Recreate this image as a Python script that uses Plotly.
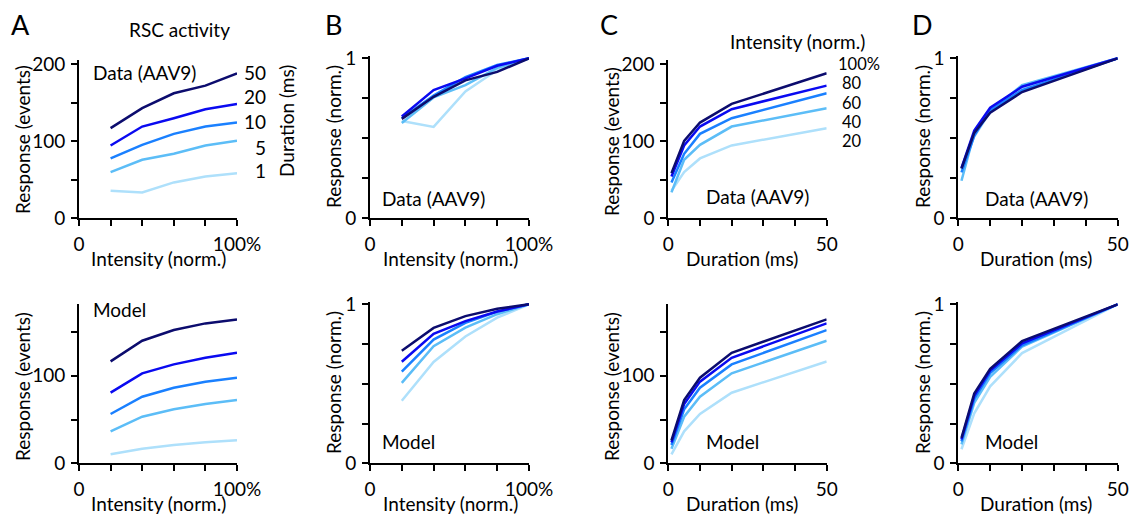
import plotly.graph_objects as go

# ---------------- data ----------------
durations = [1, 5, 10, 20, 50]            # ms
intensities = [20, 40, 60, 80, 100]       # % (norm.)

# Data (AAV9): response (events) per duration, across intensities 20..100%
data_dur1 = [35.5, 33.3, 46.3, 54.1, 58.4]
data_dur5 = [59.7, 75.8, 83.5, 94.4, 100.4]
data_dur10 = [77.5, 95.2, 109.5, 119.0, 124.2]
data_dur20 = [94.4, 119.0, 129.9, 141.6, 148.5]
data_dur50 = [116.9, 142.9, 162.3, 172.3, 188.3]

# Model: response (events) per duration, across intensities 20..100%
model_dur1 = [10.3, 16.7, 20.9, 24.0, 26.2]
model_dur5 = [36.5, 53.2, 61.6, 67.7, 72.2]
model_dur10 = [56.3, 76.0, 86.3, 93.2, 97.7]
model_dur20 = [80.6, 102.7, 112.9, 120.5, 126.2]
model_dur50 = [116.3, 139.9, 152.1, 159.7, 164.3]

duration_labels = ["1", "5", "10", "20", "50"]
intensity_labels = ["20", "40", "60", "80", "100%"]

colors = ["#aee0fb", "#5cbdf7", "#1a80ff", "#0a0af0", "#0c0c6e"]

data_rows = [data_dur1, data_dur5, data_dur10, data_dur20, data_dur50]
model_rows = [model_dur1, model_dur5, model_dur10, model_dur20, model_dur50]

W, H = 1133, 517
FONT = "Lato, 'Open Sans', sans-serif"
FS = 19


def fx(p):
    return p / W


def fy(p):
    return 1 - p / H


fig = go.Figure()

# panel geometry in pixels: (x0, x1, ytop, ybottom)
panels = {
    1: (79, 237, 60.0, 218, [0, 100], [0, 205.6], "int", "ev_top"),
    2: (370, 529, 56.4, 218, [0, 100], [0, 1.012], "int", "norm"),
    3: (668.3, 826.7, 60.0, 218, [0, 50], [0, 205.6], "dur", "ev_top"),
    4: (958.3, 1117.7, 56.4, 218, [0, 50], [0, 1.012], "dur", "norm"),
    5: (79, 237, 304.3, 463.3, [0, 100], [0, 181.5], "int", "ev_bot"),
    6: (370, 529, 302.4, 463.3, [0, 100], [0, 1.012], "int", "norm"),
    7: (668.3, 826.7, 304.3, 463.3, [0, 50], [0, 181.5], "dur", "ev_bot"),
    8: (958.3, 1117.7, 302.4, 463.3, [0, 50], [0, 1.012], "dur", "norm"),
}

xticks = {
    "int": ([0, 20, 40, 60, 80, 100], ["0", "", "", "", "", "100%"]),
    "dur": ([0, 10, 20, 30, 40, 50], ["0", "", "", "", "", "50"]),
}
yticks = {
    "ev_top": ([0, 50, 100, 150, 200], ["0", "", "100", "", "200"]),
    "ev_bot": ([0, 50, 100, 150], ["0", "", "100", ""]),
    "norm": ([0, 0.25, 0.5, 0.75, 1], ["0", "", "", "", "1"]),
}

axis_common = dict(
    showline=True, linecolor="black", linewidth=2, ticks="outside",
    ticklen=6, tickwidth=2, tickcolor="black", showgrid=False,
    zeroline=False, fixedrange=True, automargin=False,
    tickfont=dict(family=FONT, size=FS, color="black"),
)

layout = {}
for i, (x0, x1, yt, yb, xr, yr, xk, yk) in panels.items():
    sx = "" if i == 1 else str(i)
    layout["xaxis" + sx] = dict(
        domain=[fx(x0), fx(x1)], range=xr, anchor="y" + sx,
        tickvals=xticks[xk][0], ticktext=xticks[xk][1], ticklabelstandoff=2,
        **axis_common)
    layout["yaxis" + sx] = dict(
        domain=[fy(yb), fy(yt)], range=yr, anchor="x" + sx,
        tickvals=yticks[yk][0], ticktext=yticks[yk][1], ticklabelstandoff=2,
        **axis_common)


def add(i, x, y, color):
    sx = "" if i == 1 else str(i)
    fig.add_trace(go.Scatter(
        x=x, y=y, mode="lines", line=dict(color=color, width=2.5),
        xaxis="x" + sx, yaxis="y" + sx, showlegend=False, hoverinfo="skip"))


for rows, top in ((data_rows, True), (model_rows, False)):
    a, b, c, d = (1, 2, 3, 4) if top else (5, 6, 7, 8)
    # A: response vs intensity, one line per duration
    for k, r in enumerate(rows):
        add(a, intensities, r, colors[k])
    # B: normalized to 100% intensity
    for k, r in enumerate(rows):
        add(b, intensities, [v / r[-1] for v in r], colors[k])
    # C: response vs duration, one line per intensity
    for j in range(len(intensities)):
        col = [rows[k][j] for k in range(len(durations))]
        add(c, durations, col, colors[j])
    # D: normalized to 50 ms
    for j in range(len(intensities)):
        col = [rows[k][j] for k in range(len(durations))]
        add(d, durations, [v / col[-1] for v in col], colors[j])

ann = []


def text(x, y, s, size=FS, xanchor="center", angle=0):
    ann.append(dict(x=fx(x), y=fy(y), xref="paper", yref="paper", text=s,
                    showarrow=False, xanchor=xanchor, yanchor="middle",
                    textangle=angle,
                    font=dict(family=FONT, size=size, color="black")))


# panel letters
for letter, x in (("A", 21), ("B", 333), ("C", 609), ("D", 922)):
    text(x, 25, letter, size=27)

text(179, 30, "RSC activity")
text(728, 41, "Intensity (norm.)", xanchor="left")

# duration labels (panel A)
for lab, y in zip(duration_labels[::-1], [73, 97, 122, 147, 171]):
    text(268, y, lab, xanchor="right")
text(286, 121, "Duration (ms)", angle=-90)

# intensity labels (panel C)
for lab, y in zip(intensity_labels[::-1], [63.5, 83, 102.5, 122, 141.5]):
    text(836 if lab.endswith("%") else 840, y, lab, size=16.5, xanchor="left")

# in-panel labels
text(91, 72, "Data (AAV9)", xanchor="left")
text(380, 198, "Data (AAV9)", xanchor="left")
text(704, 197, "Data (AAV9)", xanchor="left")
text(983, 198, "Data (AAV9)", xanchor="left")
text(91, 309, "Model", xanchor="left")
text(380, 441, "Model", xanchor="left")
text(704, 441, "Model", xanchor="left")
text(983, 441, "Model", xanchor="left")

# y-axis titles
text(22, 140, "Response (events)", angle=-90)
text(22, 387, "Response (events)", angle=-90)
text(333, 137, "Response (norm.)", angle=-90)
text(333, 383, "Response (norm.)", angle=-90)
text(611, 142, "Response (events)", angle=-90)
text(611, 387, "Response (events)", angle=-90)
text(922, 137, "Response (norm.)", angle=-90)
text(922, 383, "Response (norm.)", angle=-90)

# x-axis titles
for y in (258, 503):
    text(158, y, "Intensity (norm.)")
    text(450, y, "Intensity (norm.)")
    text(742, y, "Duration (ms)")
    text(1036, y, "Duration (ms)")

fig.update_layout(
    template="none",
    width=W, height=H, margin=dict(l=0, r=0, t=0, b=0, autoexpand=False),
    paper_bgcolor="white", plot_bgcolor="white", annotations=ann,
    **layout)

fig.write_html(
    "out.html",
    config={"displayModeBar": False, "displaylogo": False,
            "staticPlot": True},
    post_script="document.body.style.margin='0px';"
                "document.body.style.overflow='hidden';")
